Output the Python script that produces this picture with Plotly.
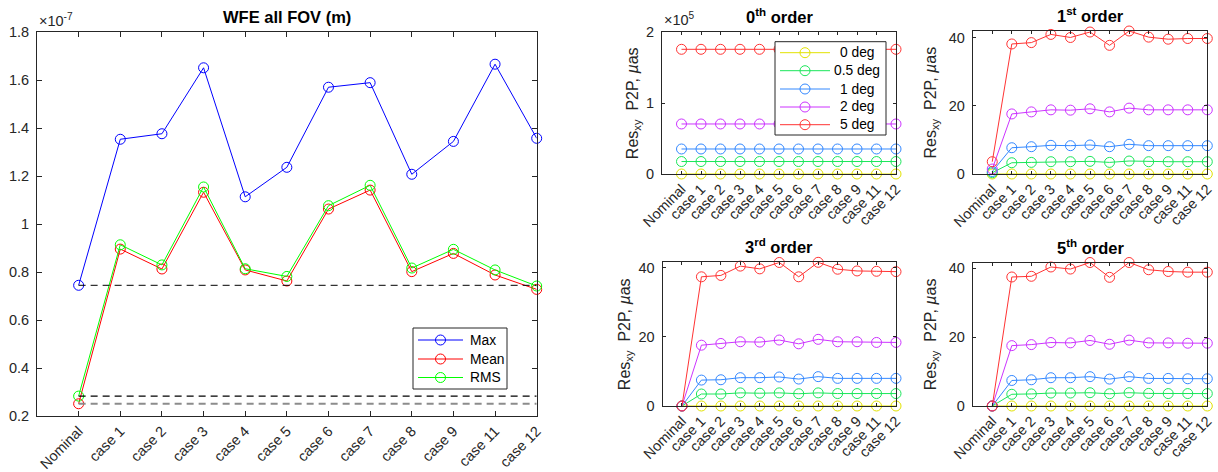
import plotly.graph_objects as go

# ---------------------------------------------------------------- data
CASES = ["Nominal", "case 1", "case 2", "case 3", "case 4", "case 5",
         "case 6", "case 7", "case 8", "case 9", "case 11", "case 12"]

# wavefront error over the whole field of view, metres
WFE_MAX = [0.745e-7, 1.354e-7, 1.377e-7, 1.652e-7, 1.114e-7, 1.237e-7,
           1.571e-7, 1.590e-7, 1.208e-7, 1.345e-7, 1.667e-7, 1.358e-7]
WFE_MEAN = [0.251e-7, 0.896e-7, 0.813e-7, 1.133e-7, 0.809e-7, 0.763e-7,
            1.063e-7, 1.142e-7, 0.802e-7, 0.878e-7, 0.788e-7, 0.728e-7]
WFE_RMS = [0.283e-7, 0.914e-7, 0.830e-7, 1.155e-7, 0.814e-7, 0.782e-7,
           1.077e-7, 1.162e-7, 0.817e-7, 0.895e-7, 0.809e-7, 0.742e-7]
WFE_NAMES = ["Max", "Mean", "RMS"]
WFE_TICKS = [0.2e-7, 0.4e-7, 0.6e-7, 0.8e-7, 1.0e-7, 1.2e-7, 1.4e-7, 1.6e-7, 1.8e-7]
WFE_TICKTEXT = ["0.2", "0.4", "0.6", "0.8", "1", "1.2", "1.4", "1.6", "1.8"]

FOV_LABELS = ["0 deg", "0.5 deg", "1 deg", "2 deg", "5 deg"]

# P2P residuals (micro-arcsec) per field angle, for each distortion order
ORDER0 = [
    [0, 0, 0, 0, 0, 0, 0, 0, 0, 0, 0, 0],
    [17600, 17600, 17600, 17600, 17600, 17600, 17600, 17600, 17600, 17600, 17600, 17600],
    [35300, 35300, 35300, 35300, 35300, 35300, 35300, 35300, 35300, 35300, 35300, 35300],
    [70600, 70600, 70600, 70600, 70600, 70600, 70600, 70600, 70600, 70600, 70600, 70600],
    [176000, 176000, 176000, 176000, 176000, 176000, 176000, 176000, 176000, 176000, 176000, 176000],
]
ORDER1 = [
    [0, 0, 0, 0, 0, 0, 0, 0, 0, 0, 0, 0],
    [0.36, 3.3, 3.4, 3.6, 3.6, 3.7, 3.4, 3.8, 3.6, 3.6, 3.6, 3.6],
    [0.72, 7.7, 8.0, 8.4, 8.3, 8.5, 8.0, 8.7, 8.3, 8.3, 8.3, 8.3],
    [1.45, 17.6, 18.2, 18.8, 18.7, 19.1, 18.2, 19.3, 18.8, 18.8, 18.8, 18.8],
    [3.6, 38.1, 38.5, 40.9, 40.0, 41.6, 37.7, 41.9, 40.1, 39.5, 39.7, 39.7],
]
ORDER3 = [
    [0, 0, 0, 0, 0, 0, 0, 0, 0, 0, 0, 0],
    [0, 3.47, 3.47, 3.8, 3.7, 3.8, 3.55, 3.8, 3.6, 3.6, 3.6, 3.6],
    [0, 7.5, 7.6, 8.2, 8.2, 8.4, 7.8, 8.5, 8.0, 8.0, 8.0, 8.0],
    [0, 17.6, 18.1, 18.6, 18.5, 19.1, 18.0, 19.3, 18.6, 18.6, 18.4, 18.4],
    [0, 37.4, 37.8, 40.5, 39.7, 41.55, 37.4, 41.6, 39.6, 39.1, 39.0, 38.9],
]
ORDER5 = [
    [0, 0, 0, 0, 0, 0, 0, 0, 0, 0, 0, 0],
    [0, 3.4, 3.5, 3.75, 3.75, 3.85, 3.55, 3.85, 3.65, 3.6, 3.6, 3.6],
    [0, 7.4, 7.6, 8.2, 8.2, 8.5, 7.8, 8.5, 8.0, 8.0, 7.9, 7.9],
    [0, 17.5, 17.8, 18.4, 18.3, 19.0, 17.9, 19.1, 18.3, 18.3, 18.2, 18.2],
    [0, 37.4, 37.6, 40.3, 39.7, 41.6, 37.3, 41.6, 39.5, 39.0, 38.8, 38.8],
]
ORDER_TITLES = ["0<sup>th</sup> order", "1<sup>st</sup> order",
                "3<sup>rd</sup> order", "5<sup>th</sup> order"]

# ---------------------------------------------------------------- style
W, H = 1218, 472
FONT = "Liberation Sans, Arial, sans-serif"
INK = "#262626"
WFE_COLORS = ["#0000FF", "#FF0000", "#00FF00"]
FOV_COLORS = ["#E2E200", "#1AE65A", "#3388FF", "#CC33FF", "#FF3333"]
TICK_SIZE = 14.5
TITLE_SIZE = 16.5
LEGEND_SIZE = 13.8


def px(x):
    return x / W


def py(y):
    return 1 - y / H


# axes boxes in pixels: (left, right, top, bottom)
BOX_WFE = (37, 536.7, 32.3, 416)
BOX_SUB = [(662, 896, 32.3, 174), (972.7, 1207.3, 31, 174),
           (662.5, 896, 262.3, 406), (972.7, 1207.3, 262.5, 406)]

fig = go.Figure()


def axis_common(ticklen):
    return dict(showline=True, linecolor=INK, linewidth=1, mirror="ticks",
                ticks="inside", ticklen=ticklen, tickcolor=INK, tickwidth=1,
                showgrid=False, zeroline=False, automargin=False,
                tickfont=dict(family=FONT, size=TICK_SIZE, color=INK))


# ---------------------------------------------------------------- WFE panel
for name, vals, col in zip(WFE_NAMES, [WFE_MAX, WFE_MEAN, WFE_RMS], WFE_COLORS):
    fig.add_trace(go.Scatter(
        x=CASES, y=vals, name=name, mode="lines+markers",
        line=dict(color=col, width=1),
        marker=dict(symbol="circle-open", size=10, color=col, line=dict(width=1)),
        cliponaxis=False, xaxis="x", yaxis="y", showlegend=False))

# reference levels at the nominal values
for vals, col, wid in [(WFE_MAX, "#000000", 1), (WFE_RMS, "#000000", 1.3),
                       (WFE_MEAN, "#8c8c8c", 2)]:
    fig.add_trace(go.Scatter(
        x=[CASES[0], CASES[-1]], y=[vals[0], vals[0]], mode="lines",
        line=dict(color=col, width=wid, dash="7px,5px"),
        showlegend=False, hoverinfo="skip", xaxis="x", yaxis="y"))

# ---------------------------------------------------------------- order panels
for k, data in enumerate([ORDER0, ORDER1, ORDER3, ORDER5]):
    xa = "x%d" % (k + 2)
    ya = "y%d" % (k + 2)
    for j, (lab, vals) in enumerate(zip(FOV_LABELS, data)):
        fig.add_trace(go.Scatter(
            x=CASES, y=vals, name=lab, mode="lines+markers",
            line=dict(color=FOV_COLORS[j], width=1),
            marker=dict(symbol="circle-open", size=10, color=FOV_COLORS[j],
                        line=dict(width=1)),
            cliponaxis=False, xaxis=xa, yaxis=ya, showlegend=False))

layout = dict(
    width=W, height=H, margin=dict(l=0, r=0, t=0, b=0),
    paper_bgcolor="white", plot_bgcolor="white", showlegend=False,
    font=dict(family=FONT, size=TICK_SIZE, color=INK),
)

l, r, t, b = BOX_WFE
layout["xaxis"] = dict(axis_common(5), domain=[px(l), px(r)], range=[-1, 11],
                       anchor="y", tickangle=-45)
layout["yaxis"] = dict(axis_common(5), domain=[py(b), py(t)], range=[0.2e-7, 1.8e-7],
                       anchor="x", tickvals=WFE_TICKS, ticktext=WFE_TICKTEXT,
                       ticklabelstandoff=4)

for k, (l, r, t, b) in enumerate(BOX_SUB):
    n = k + 2
    data = [ORDER0, ORDER1, ORDER3, ORDER5][k]
    layout["xaxis%d" % n] = dict(axis_common(3), domain=[px(l), px(r)],
                                 range=[-1, 11], anchor="y%d" % n, tickangle=-45)
    if k == 0:
        yax = dict(range=[0, 2e5], tickvals=[0, 1e5, 2e5], ticktext=["0", "1", "2"])
    else:
        top = max(max(v) for v in data)
        yax = dict(range=[0, top], tickvals=[0, 20, 40], ticktext=["0", "20", "40"])
    layout["yaxis%d" % n] = dict(axis_common(3), domain=[py(b), py(t)],
                                 anchor="x%d" % n, ticklabelstandoff=4, **yax)

PAPER = dict(xref="paper", yref="paper", showarrow=False)
ann = []
shapes = []


def legend_box(box, rows, names, colors, line_x, text_x, text_anchor):
    """Boxed key: line-with-circle sample and label on each row."""
    l, r, t, b = box
    shapes.append(dict(type="rect", xref="paper", yref="paper", layer="above",
                       x0=px(l), x1=px(r), y0=py(b), y1=py(t),
                       fillcolor="white", line=dict(color=INK, width=1)))
    for yrow, name, col in zip(rows, names, colors):
        shapes.append(dict(type="line", xref="paper", yref="paper", layer="above",
                           x0=px(line_x[0]), x1=px(line_x[1]), y0=py(yrow), y1=py(yrow),
                           line=dict(color=col, width=1)))
        xc = (line_x[0] + line_x[1]) / 2
        shapes.append(dict(type="circle", xref="paper", yref="paper", layer="above",
                           xsizemode="pixel", ysizemode="pixel",
                           xanchor=px(xc), yanchor=py(yrow),
                           x0=-5, x1=5, y0=-5, y1=5,
                           line=dict(color=col, width=1)))
        ann.append(dict(PAPER, text=name, x=px(text_x), y=py(yrow),
                        xanchor=text_anchor, yanchor="middle",
                        font=dict(family=FONT, size=LEGEND_SIZE, color="#000000")))


legend_box((413, 507, 328, 389), [340, 359, 377.5], WFE_NAMES, WFE_COLORS,
           (418, 463), 468, "left")
legend_box((775, 886, 41.7, 135), [52.7, 70.7, 89, 107, 124.7], FOV_LABELS,
           FOV_COLORS, (780, 830), 857, "center")

# panel titles
ann.append(dict(PAPER, text="<b>WFE all FOV (m)</b>", x=px(287), y=py(28),
                xanchor="center", yanchor="bottom",
                font=dict(family=FONT, size=TITLE_SIZE, color="#000000")))
for k, (l, r, t, b) in enumerate(BOX_SUB):
    ann.append(dict(PAPER, text="<b>%s</b>" % ORDER_TITLES[k], x=px((l + r) / 2),
                    y=py(t - 4), xanchor="center", yanchor="bottom",
                    font=dict(family=FONT, size=TITLE_SIZE, color="#000000")))
# exponent labels
ann.append(dict(PAPER, text="\u00d710<sup>-7</sup>", x=px(37), y=py(31),
                xanchor="left", yanchor="bottom",
                font=dict(family=FONT, size=TICK_SIZE, color=INK)))
ann.append(dict(PAPER, text="\u00d710<sup>5</sup>", x=px(662), y=py(30),
                xanchor="left", yanchor="bottom",
                font=dict(family=FONT, size=TICK_SIZE, color=INK)))
# y-axis labels of the order panels
YLAB = "Res<sub>xy</sub>  P2P, <i>\u00b5</i>as"
for (xc, (l, r, t, b)) in zip([633, 931, 625, 931], BOX_SUB):
    ann.append(dict(PAPER, text=YLAB, x=px(xc), y=py((t + b) / 2), textangle=-90,
                    xanchor="center", yanchor="middle",
                    font=dict(family=FONT, size=16, color=INK)))

layout["annotations"] = ann
layout["shapes"] = shapes

fig.update_layout(**layout)
fig.write_html("out.html")
